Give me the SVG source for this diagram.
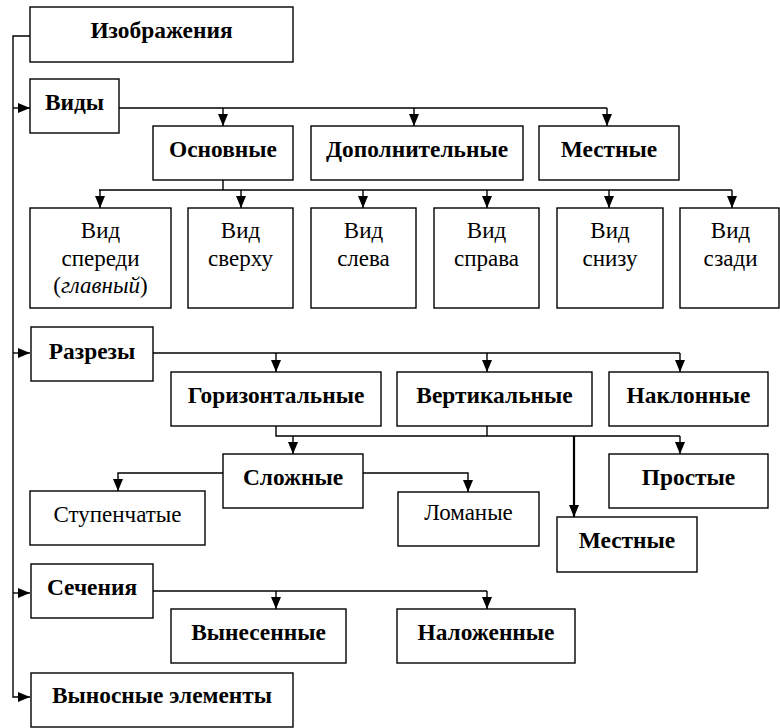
<svg xmlns="http://www.w3.org/2000/svg" width="780" height="728" viewBox="0 0 780 728">
<style>
.box{fill:#fff;stroke:#000;stroke-width:1.4}
.c{fill:none;stroke:#000;stroke-width:1.4}
.thick{stroke-width:2.2}
.b{font-family:"Liberation Serif","Times New Roman",serif;font-weight:bold;font-size:23.4px;text-anchor:middle;fill:#000}
.r{font-family:"Liberation Serif","Times New Roman",serif;font-size:23px;text-anchor:middle;fill:#000}
</style>
<defs>
<marker id="ah" viewBox="0 0 12 10" refX="12" refY="5" markerWidth="12" markerHeight="10" orient="auto" markerUnits="userSpaceOnUse">
<path d="M0,0 L12,5 L0,10 z" fill="#000"/>
</marker>
</defs>
<rect width="780" height="728" fill="#fff"/>
<g id="connectors">
<path class="c" d="M30,36 H13 V697 H30" marker-end="url(#ah)"/>
<path class="c" d="M13,108 H30" marker-end="url(#ah)"/>
<path class="c" d="M13,353 H30" marker-end="url(#ah)"/>
<path class="c" d="M13,593 H30" marker-end="url(#ah)"/>
<path class="c" d="M119,108 H607"/>
<path class="c" d="M223,108 V126" marker-end="url(#ah)"/>
<path class="c" d="M414,108 V126" marker-end="url(#ah)"/>
<path class="c" d="M607,108 V126" marker-end="url(#ah)"/>
<path class="c" d="M223,180 V190 M99,190 H732"/>
<path class="c" d="M100,190 V208" marker-end="url(#ah)"/>
<path class="c" d="M241,190 V208" marker-end="url(#ah)"/>
<path class="c" d="M363,190 V208" marker-end="url(#ah)"/>
<path class="c" d="M487,190 V208" marker-end="url(#ah)"/>
<path class="c" d="M609,190 V208" marker-end="url(#ah)"/>
<path class="c" d="M732,190 V208" marker-end="url(#ah)"/>
<path class="c" d="M153,353 H680"/>
<path class="c" d="M276,353 V372" marker-end="url(#ah)"/>
<path class="c" d="M487,353 V372" marker-end="url(#ah)"/>
<path class="c" d="M680,353 V372" marker-end="url(#ah)"/>
<path class="c" d="M276,426 V436 H680 M487,426 V436"/>
<path class="c" d="M293,436 V454" marker-end="url(#ah)"/>
<path class="c" d="M680,436 V454" marker-end="url(#ah)"/>
<path class="c thick" d="M574,436 V517" marker-end="url(#ah)"/>
<path class="c" d="M223,473 H118 V491" marker-end="url(#ah)"/>
<path class="c" d="M363,473 H468 V492" marker-end="url(#ah)"/>
<path class="c" d="M153,591 H487"/>
<path class="c" d="M276,591 V609" marker-end="url(#ah)"/>
<path class="c" d="M487,591 V609" marker-end="url(#ah)"/>
</g>
<g id="n-izobrazheniya"><rect class="box" x="30" y="7" width="263" height="55"/><text class="b" x="161.5" y="38">Изображения</text></g>
<g id="n-vidy"><rect class="box" x="30" y="79" width="89" height="54"/><text class="b" x="74.5" y="110">Виды</text></g>
<g id="n-osnovnye"><rect class="box" x="153" y="126" width="140" height="54"/><text class="b" x="223" y="157">Основные</text></g>
<g id="n-dopolnitelnye"><rect class="box" x="311" y="126" width="212" height="54"/><text class="b" x="417" y="157">Дополнительные</text></g>
<g id="n-mestnye1"><rect class="box" x="539" y="126" width="140" height="54"/><text class="b" x="609" y="157">Местные</text></g>
<g id="n-vid-speredi"><rect class="box" x="30" y="208" width="141" height="100"/><text class="r" x="100.5" y="238">Вид</text><text class="r" x="100.5" y="266">спереди</text><text class="r" x="100.5" y="293">(<tspan font-style="italic">главный</tspan>)</text></g>
<g id="n-vid-sverhu"><rect class="box" x="188" y="208" width="105" height="100"/><text class="r" x="240.5" y="238">Вид</text><text class="r" x="240.5" y="266">сверху</text></g>
<g id="n-vid-sleva"><rect class="box" x="311" y="208" width="105" height="100"/><text class="r" x="363.5" y="238">Вид</text><text class="r" x="363.5" y="266">слева</text></g>
<g id="n-vid-sprava"><rect class="box" x="434" y="208" width="105" height="100"/><text class="r" x="486.5" y="238">Вид</text><text class="r" x="486.5" y="266">справа</text></g>
<g id="n-vid-snizu"><rect class="box" x="557" y="208" width="106" height="100"/><text class="r" x="610" y="238">Вид</text><text class="r" x="610" y="266">снизу</text></g>
<g id="n-vid-szadi"><rect class="box" x="680" y="208" width="99" height="100"/><text class="r" x="730.5" y="238">Вид</text><text class="r" x="730.5" y="266">сзади</text></g>
<g id="n-razrezy"><rect class="box" x="31" y="327" width="122" height="54"/><text class="b" x="92" y="359">Разрезы</text></g>
<g id="n-gorizontalnye"><rect class="box" x="171" y="372" width="210" height="54"/><text class="b" x="276" y="403">Горизонтальные</text></g>
<g id="n-vertikalnye"><rect class="box" x="397" y="372" width="195" height="54"/><text class="b" x="494.5" y="403">Вертикальные</text></g>
<g id="n-naklonnye"><rect class="box" x="609" y="372" width="159" height="54"/><text class="b" x="688.5" y="403">Наклонные</text></g>
<g id="n-slozhnye"><rect class="box" x="223" y="454" width="140" height="54"/><text class="b" x="293" y="485">Сложные</text></g>
<g id="n-prostye"><rect class="box" x="609" y="454" width="159" height="54"/><text class="b" x="688.5" y="485">Простые</text></g>
<g id="n-stupenchatye"><rect class="box" x="30" y="491" width="175" height="54"/><text class="r" x="117.5" y="522">Ступенчатые</text></g>
<g id="n-lomanye"><rect class="box" x="398" y="492" width="141" height="54"/><text class="r" x="468.5" y="520">Ломаные</text></g>
<g id="n-mestnye2"><rect class="box" x="557" y="517" width="140" height="55"/><text class="b" x="627" y="548">Местные</text></g>
<g id="n-secheniya"><rect class="box" x="31" y="564" width="122" height="54"/><text class="b" x="92" y="595">Сечения</text></g>
<g id="n-vynesennye"><rect class="box" x="171" y="609" width="175" height="54"/><text class="b" x="258.5" y="640">Вынесенные</text></g>
<g id="n-nalozhennye"><rect class="box" x="397" y="609" width="178" height="54"/><text class="b" x="486" y="640">Наложенные</text></g>
<g id="n-vynosnye"><rect class="box" x="31" y="673" width="262" height="54"/><text class="b" x="162" y="703">Выносные элементы</text></g>
</svg>
